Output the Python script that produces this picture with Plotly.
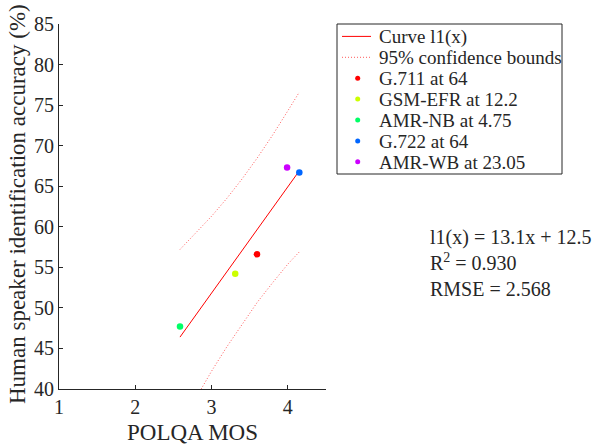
import plotly.graph_objects as go

# Measured data points (POLQA MOS, accuracy %)
codecs = ["G.711 at 64", "GSM-EFR at 12.2", "AMR-NB at 4.75", "G.722 at 64", "AMR-WB at 23.05"]
mos = [3.595, 3.31, 2.586, 4.15, 3.99]
accuracy = [56.6, 54.2, 47.7, 66.7, 67.3]
colors = ["#ff0000", "#ccff00", "#00ff66", "#0066ff", "#cc00ff"]

# Fitted curve endpoints
fit_x = [2.586, 4.15]
fit_y = [46.4, 66.9]

# 95% confidence bounds
bound_x = [2.586, 2.8, 3.0, 3.2, 3.4, 3.6, 3.8, 4.0, 4.15]
upper = [57.2, 59.3, 61.3, 63.5, 65.9, 68.5, 71.3, 74.3, 76.6]
lower = [35.5, 39.0, 42.2, 45.2, 48.0, 50.7, 53.1, 55.4, 56.9]

x_ticks = [1, 2, 3, 4]
y_ticks = [40, 45, 50, 55, 60, 65, 70, 75, 80, 85]

line_labels = ["Curve l1(x)", "95% confidence bounds"]
x_title = "POLQA MOS"
y_title = "Human speaker identification accuracy (%)"

FONT = "Liberation Serif"
INK = "#262626"
BOUND_COLOR = "rgba(255,0,0,0.65)"

W, H = 601, 447
ML, MT = 59, 24
PW, PH = 267, 365


def px(sx):  # window x pixel -> paper x
    return (sx - ML) / PW


def py(sy):  # window y pixel -> paper y
    return (MT + PH - sy) / PH


fig = go.Figure()
fig.add_trace(go.Scatter(x=fit_x, y=fit_y, mode="lines", name=line_labels[0],
                         line=dict(color="#ff0000", width=1)))
fig.add_trace(go.Scatter(x=bound_x, y=upper, mode="lines", name=line_labels[1],
                         line=dict(color=BOUND_COLOR, width=1, dash="1px,2px")))
fig.add_trace(go.Scatter(x=bound_x, y=lower, mode="lines", name=line_labels[1],
                         line=dict(color=BOUND_COLOR, width=1, dash="1px,2px")))
for name, xv, yv, c in zip(codecs, mos, accuracy, colors):
    fig.add_trace(go.Scatter(x=[xv], y=[yv], mode="markers", name=name,
                             marker=dict(color=c, size=6.5)))

# legend box (drawn to match MATLAB legend spacing)
shapes = [dict(type="rect", xref="paper", yref="paper",
               x0=px(337), x1=px(562), y0=py(174), y1=py(24),
               line=dict(color=INK, width=1), fillcolor="white", layer="below")]
annotations = []
row_y0, row_dy = 36.4, 20.9
labels_all = line_labels + codecs
for i, lab in enumerate(labels_all):
    ry = row_y0 + i * row_dy
    if i == 0:
        shapes.append(dict(type="line", xref="paper", yref="paper",
                           x0=px(342), x1=px(371), y0=py(ry), y1=py(ry),
                           line=dict(color="#ff0000", width=1)))
    elif i == 1:
        shapes.append(dict(type="line", xref="paper", yref="paper",
                           x0=px(342), x1=px(371), y0=py(ry), y1=py(ry),
                           line=dict(color=BOUND_COLOR, width=1, dash="1px,2px")))
    else:
        shapes.append(dict(type="circle", xref="paper", yref="paper",
                           xsizemode="pixel", ysizemode="pixel",
                           xanchor=px(357.7), yanchor=py(ry),
                           x0=-2.5, x1=2.5, y0=-2.5, y1=2.5,
                           fillcolor=colors[i - 2], line=dict(width=0)))
    annotations.append(dict(xref="paper", yref="paper", x=px(376.5), y=py(ry + 0.5),
                            xanchor="left", yanchor="middle", showarrow=False,
                            text=lab, font=dict(family=FONT, size=19, color=INK)))

annotations.append(dict(xref="paper", yref="paper", x=px(428), y=py(263),
                        xanchor="left", yanchor="middle", align="left",
                        showarrow=False,
                        text="l1(x) = 13.1x + 12.5<br>R<sup>2</sup> = 0.930<br>RMSE = 2.568",
                        font=dict(family=FONT, size=20, color=INK)))

# axis titles placed as in the reference
annotations.append(dict(xref="paper", yref="paper", x=0.5, y=py(432),
                        xanchor="center", yanchor="middle", showarrow=False,
                        text=x_title, font=dict(family=FONT, size=23, color=INK)))
annotations.append(dict(xref="paper", yref="paper", x=px(17), y=py(204),
                        xanchor="center", yanchor="middle", showarrow=False,
                        textangle=-90,
                        text=y_title, font=dict(family=FONT, size=23, color=INK)))

fig.update_layout(
    width=W, height=H,
    margin=dict(l=ML, r=W - ML - PW, t=MT, b=H - MT - PH, autoexpand=False),
    paper_bgcolor="white", plot_bgcolor="white",
    font=dict(family=FONT, color=INK, size=20),
    showlegend=False,
    hovermode=False,
    shapes=shapes,
    annotations=annotations,
)
fig.update_xaxes(range=[1, 4.5], tickvals=x_ticks, ticks="inside", ticklen=4,
                 tickcolor=INK, showline=True, linecolor=INK, linewidth=1,
                 showgrid=False, zeroline=False, automargin=False,
                 tickfont=dict(family=FONT, size=20, color=INK))
fig.update_yaxes(range=[40, 85], tickvals=y_ticks, ticks="inside", ticklen=4,
                 tickcolor=INK, showline=True, linecolor=INK, linewidth=1,
                 showgrid=False, zeroline=False, automargin=False,
                 tickfont=dict(family=FONT, size=20, color=INK))

fig.write_html("out.html",
               config={"displayModeBar": False},
               post_script="document.body.style.margin='0';document.body.style.overflow='hidden';")
